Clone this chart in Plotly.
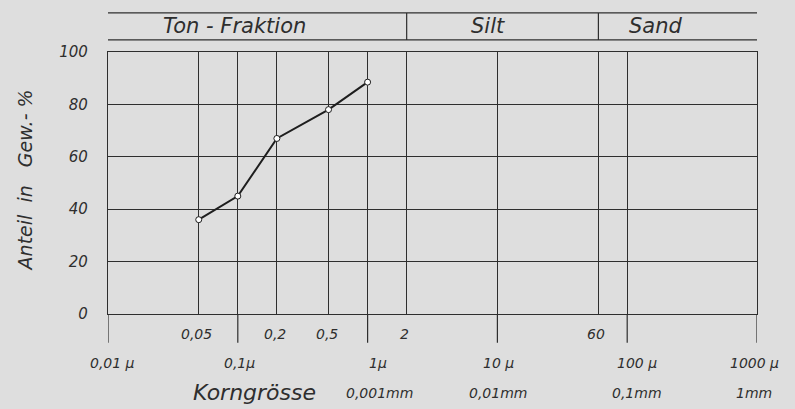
import math
import plotly.graph_objects as go

# ---- data ----
grain_size_um = [0.05, 0.1, 0.2, 0.5, 1.0]
share_pct = [36, 45, 67, 78, 88.5]

grid_x = [0.01, 0.05, 0.1, 0.2, 0.5, 1, 2, 10, 60, 100, 1000]
minor_label_x = [0.05, 0.2, 0.5, 2, 60]
minor_labels = ["0,05", "0,2", "0,5", "2", "60"]
major_x = [0.01, 0.1, 1, 10, 100, 1000]
major_labels = ["0,01 µ", "0,1µ", "1µ", "10 µ", "100 µ", "1000 µ"]
mm_x = [1, 10, 100, 1000]
mm_labels = ["0,001mm", "0,01mm", "0,1mm", "1mm"]
y_ticks = [0, 20, 40, 60, 80, 100]
fractions = ["Ton - Fraktion", "Silt", "Sand"]
fraction_label_x = [0.095, 8.4, 167]
fraction_bounds = [2, 60]

INK = "#2e2e2e"
BG = "#dedede"
FONT = "DejaVu Sans"
W = 300


def lx(v):
    return math.log10(v)


def f(size):
    return dict(family=FONT, size=size, color=INK, style="italic", weight=W)


fig = go.Figure()
fig.add_trace(go.Scatter(
    x=grain_size_um, y=share_pct, mode="lines+markers",
    line=dict(color="#1e1e1e", width=2),
    marker=dict(symbol="circle", size=6, color="white",
                line=dict(color="#1e1e1e", width=1)),
    showlegend=False, hoverinfo="skip"))

shapes = []
for v in major_x:
    shapes.append(dict(type="line", xref="x", yref="paper", x0=v, x1=v,
                       y0=0, y1=-0.11, line=dict(color=INK, width=1.2)))
for yy in (1.046, 1.149):
    shapes.append(dict(type="line", xref="x", yref="paper", x0=0.01, x1=1000,
                       y0=yy, y1=yy, line=dict(color=INK, width=1.2)))
for v in fraction_bounds:
    shapes.append(dict(type="line", xref="x", yref="paper", x0=v, x1=v,
                       y0=1.046, y1=1.149, line=dict(color=INK, width=1.2)))

annotations = []
for v, t in zip(minor_label_x, minor_labels):
    annotations.append(dict(x=lx(v), y=-0.076, xref="x", yref="paper", text=t,
                            showarrow=False, font=f(14), xanchor="center",
                            yanchor="middle", xshift=-2))
major_shift = [4, 2, 10, 1, 10, -3]
for v, t, s in zip(major_x, major_labels, major_shift):
    annotations.append(dict(x=lx(v), y=-0.187, xref="x", yref="paper", text=t,
                            showarrow=False, font=f(14), xanchor="center",
                            yanchor="middle", xshift=s))
mm_shift = [12, 1, 10, -3]
for v, t, s in zip(mm_x, mm_labels, mm_shift):
    annotations.append(dict(x=lx(v), y=-0.30, xref="x", yref="paper", text=t,
                            showarrow=False, font=f(14), xanchor="center",
                            yanchor="middle", xshift=s))
annotations.append(dict(x=lx(0.135), y=-0.30, xref="x", yref="paper",
                        text="Korngrösse", showarrow=False, font=f(22),
                        xanchor="center", yanchor="middle"))
for v, t in zip(fraction_label_x, fractions):
    annotations.append(dict(x=lx(v), y=1.098, xref="x", yref="paper", text=t,
                            showarrow=False, font=f(21),
                            xanchor="center", yanchor="middle"))
annotations.append(dict(x=0, y=0.51, xref="paper", yref="paper",
                        text="Anteil  in   Gew.- %", textangle=-90,
                        showarrow=False, font=f(19),
                        xanchor="center", yanchor="middle", xshift=-83))

fig.update_layout(
    width=795, height=409,
    margin=dict(l=108, r=38, t=52, b=95),
    paper_bgcolor=BG, plot_bgcolor=BG,
    shapes=shapes, annotations=annotations,
    xaxis=dict(type="log", range=[-2, 3], tickvals=grid_x, showticklabels=False,
               showgrid=True, gridcolor=INK, gridwidth=1.2, zeroline=False,
               showline=True, linecolor=INK, linewidth=1.2, mirror=True, ticks=""),
    yaxis=dict(range=[0, 100], tickvals=y_ticks, showgrid=True, gridcolor=INK,
               gridwidth=1.2, zeroline=False, showline=True, linecolor=INK,
               linewidth=1.2, mirror=True, ticks="", ticklabelstandoff=16,
               tickfont=f(15)),
)

fig.write_html("out.html", config={"displayModeBar": False},
               post_script="document.body.style.margin='0';"
                           "document.body.style.background='#dedede';")
